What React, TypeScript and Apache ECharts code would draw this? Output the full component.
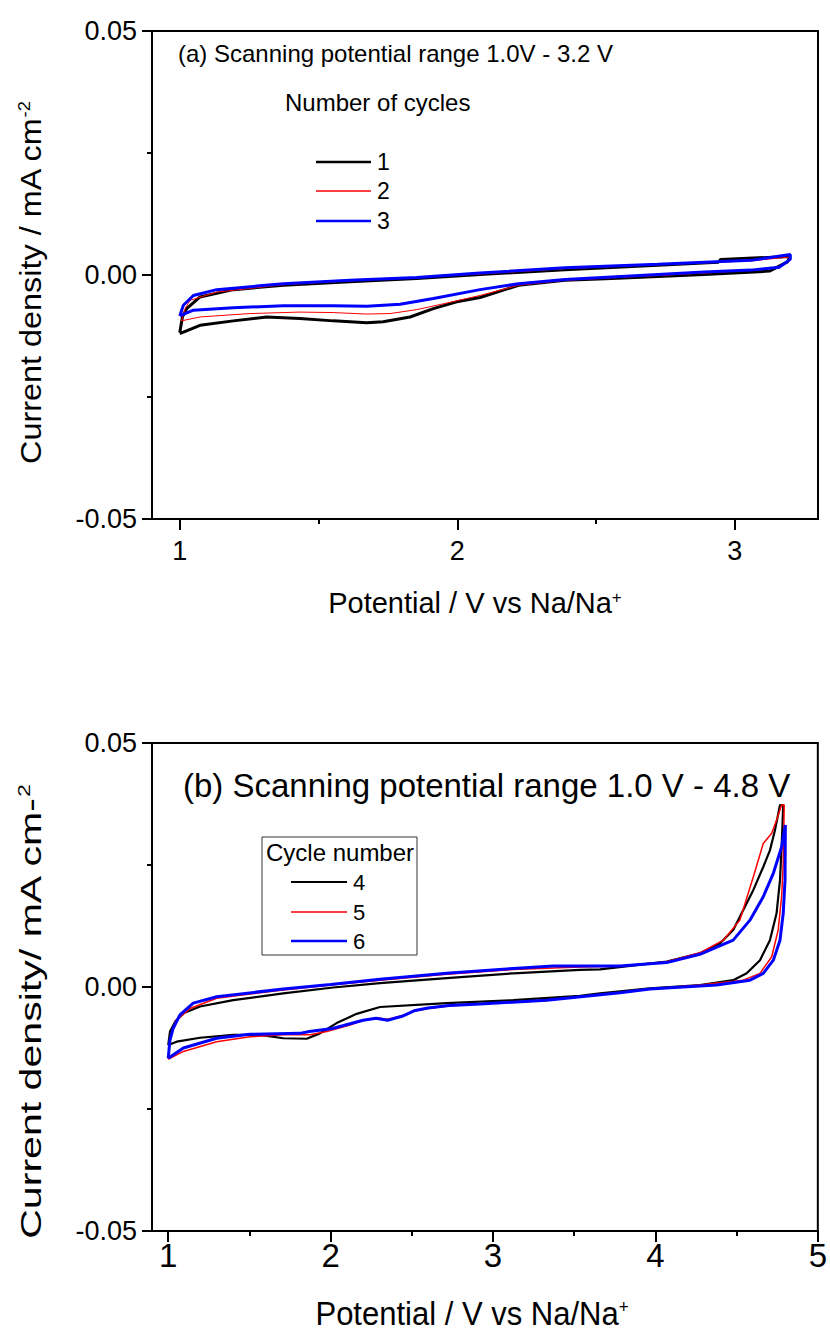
import React, { useEffect, useRef } from 'react';
import * as echarts from 'echarts';

const FONT = '"Liberation Sans", Arial, Helvetica, sans-serif';

// ---------- axis ticks ----------
const xTicksA = [1, 2, 3];
const xMinorA = [1.5, 2.5];
const xTicksB = [1, 2, 3, 4, 5];
const xMinorB = [1.5, 2.5, 3.5, 4.5];

const cyclesA = ['1', '2', '3'];
const cyclesB = ['4', '5', '6'];

// ---------- panel (a): 1.0 V - 3.2 V, cycles 1-3 ----------
const cycle1Fwd: [number, number][] = [
  [1.0, -0.0118], [1.01, -0.0085], [1.025, -0.0069], [1.073, -0.0045], [1.193, -0.003],
  [1.373, -0.0021], [1.613, -0.0014], [1.854, -0.0007], [2.082, 0.0001], [2.388, 0.0011],
  [2.723, 0.002], [2.94, 0.0026], [2.95, 0.0032], [3.2, 0.0038],
];
const cycle1Rev: [number, number][] = [
  [3.2, 0.0037], [3.19, 0.0027], [3.125, 0.0008], [2.89, 0.0001], [2.556, -0.0007],
  [2.388, -0.0011], [2.221, -0.0021], [2.082, -0.0046], [1.998, -0.0055], [1.914, -0.0069],
  [1.83, -0.0086], [1.733, -0.0096], [1.674, -0.0098], [1.553, -0.0094], [1.433, -0.0089],
  [1.313, -0.0086], [1.193, -0.0094], [1.073, -0.0103], [1.0, -0.012],
];
const cycle2Fwd: [number, number][] = [
  [1.006, -0.0094], [1.02, -0.0068], [1.037, -0.0052], [1.133, -0.0035], [1.373, -0.002],
  [1.613, -0.0012], [1.854, -0.0005], [2.082, 0.0002], [2.388, 0.0013], [2.723, 0.0021],
  [3.058, 0.0029], [3.2, 0.0037],
];
const cycle2Rev: [number, number][] = [
  [3.2, 0.0034], [3.16, 0.0015], [3.058, 0.001], [2.89, 0.0004], [2.723, -0.0001],
  [2.556, -0.0006], [2.388, -0.0011], [2.221, -0.0021], [2.082, -0.0042], [1.95, -0.0059],
  [1.854, -0.0071], [1.758, -0.0079], [1.674, -0.008], [1.553, -0.0077], [1.433, -0.0076],
  [1.253, -0.0079], [1.073, -0.0086], [1.006, -0.0094],
];
const cycle3Fwd: [number, number][] = [
  [1.0, -0.0084], [1.013, -0.0062], [1.049, -0.0042], [1.133, -0.003], [1.373, -0.0018],
  [1.613, -0.0011], [1.854, -0.0005], [2.082, 0.0004], [2.388, 0.0015], [2.723, 0.0022],
  [3.058, 0.003], [3.2, 0.0042],
];
const cycle3Rev: [number, number][] = [
  [3.2, 0.0032], [3.16, 0.0016], [3.058, 0.001], [2.89, 0.0006], [2.723, 0.0001],
  [2.556, -0.0004], [2.388, -0.0009], [2.221, -0.0018], [2.082, -0.003], [1.914, -0.0048],
  [1.794, -0.006], [1.674, -0.0064], [1.553, -0.0063], [1.373, -0.0063], [1.193, -0.0067],
  [1.049, -0.0072], [1.0, -0.0084],
];

// ---------- panel (b): 1.0 V - 4.8 V, cycles 4-6 ----------
const cycle4Fwd: [number, number][] = [
  [1.0, -0.0119], [1.011, -0.0091], [1.042, -0.0071], [1.093, -0.0054], [1.196, -0.004],
  [1.4, -0.0027], [1.708, -0.0013], [2.016, -0.0001], [2.304, 0.0008], [2.714, 0.0018],
  [3.125, 0.0028], [3.535, 0.0035], [3.659, 0.0036], [4.069, 0.0052], [4.274, 0.0069],
  [4.397, 0.0089], [4.479, 0.0117], [4.541, 0.0158], [4.603, 0.0199], [4.664, 0.0246],
  [4.705, 0.028], [4.736, 0.0321], [4.767, 0.0373],
];
const cycle4Rev: [number, number][] = [
  [4.787, 0.0373], [4.777, 0.0287], [4.767, 0.0219], [4.746, 0.0151], [4.705, 0.0096],
  [4.644, 0.0055], [4.562, 0.0028], [4.479, 0.0014], [4.274, 0.0004], [3.966, -0.0003],
  [3.659, -0.0013], [3.535, -0.0018], [3.125, -0.0027], [2.714, -0.0033], [2.304, -0.0041],
  [2.16, -0.0055], [2.037, -0.0074], [1.934, -0.0095], [1.853, -0.0106], [1.708, -0.0105],
  [1.565, -0.0098], [1.4, -0.0098], [1.196, -0.0104], [1.052, -0.0112], [1.0, -0.0119],
];
const cycle5Fwd: [number, number][] = [
  [1.0, -0.0148], [1.012, -0.0105], [1.042, -0.0071], [1.134, -0.0044], [1.298, -0.0023],
  [1.708, -0.0006], [2.0, 0.0004], [2.304, 0.0014], [2.714, 0.0026], [3.125, 0.0036],
  [3.535, 0.0041], [3.782, 0.0043], [4.069, 0.0052], [4.274, 0.007], [4.418, 0.0096],
  [4.52, 0.0137], [4.603, 0.0226], [4.664, 0.0294], [4.716, 0.0315], [4.746, 0.0342],
  [4.777, 0.0373],
];
const cycle5Rev: [number, number][] = [
  [4.793, 0.0373], [4.787, 0.0253], [4.777, 0.0185], [4.756, 0.0117], [4.716, 0.0062],
  [4.644, 0.0028], [4.541, 0.0014], [4.274, 0.0004], [3.966, -0.0004], [3.782, -0.0012],
  [3.33, -0.0027], [2.92, -0.0035], [2.728, -0.0039], [2.6, -0.0044], [2.52, -0.0049],
  [2.44, -0.0059], [2.35, -0.0066], [2.28, -0.0063], [2.2, -0.0068], [2.119, -0.0078],
  [1.976, -0.0091], [1.873, -0.0098], [1.708, -0.0098], [1.503, -0.0102], [1.298, -0.0112],
  [1.093, -0.0132], [1.011, -0.0146], [1.0, -0.0148],
];
const cycle6Fwd: [number, number][] = [
  [1.0, -0.0146], [1.01, -0.011], [1.03, -0.0085], [1.072, -0.0057], [1.154, -0.0033],
  [1.298, -0.002], [1.708, -0.0004], [2.0, 0.0005], [2.304, 0.0016], [2.714, 0.0028],
  [3.125, 0.0038], [3.37, 0.0043], [3.782, 0.0043], [4.069, 0.005], [4.274, 0.0067],
  [4.479, 0.0096], [4.582, 0.0137], [4.664, 0.0185], [4.726, 0.0233], [4.777, 0.0287],
  [4.8, 0.0332],
];
const cycle6Rev: [number, number][] = [
  [4.8, 0.033], [4.798, 0.0219], [4.787, 0.0151], [4.767, 0.0096], [4.726, 0.0055],
  [4.664, 0.0028], [4.582, 0.0014], [4.377, 0.0004], [3.966, -0.0004], [3.782, -0.0012],
  [3.33, -0.0027], [2.92, -0.0035], [2.728, -0.0038], [2.6, -0.0043], [2.52, -0.0048],
  [2.44, -0.006], [2.35, -0.0068], [2.28, -0.0064], [2.2, -0.0068], [2.012, -0.0085],
  [1.869, -0.0091], [1.811, -0.0095], [1.503, -0.0097], [1.298, -0.0105], [1.093, -0.0125],
  [1.0, -0.0146],
];

const BLACK = '#000000';
const RED = '#ff0000';
const BLUE = '#0000ff';
const COLORS = [BLACK, RED, BLUE];
const WIDTHS_A = [3, 1, 3];
const WIDTHS_B = [2.2, 1.5, 3];

function mainX(gridIndex: number, min: number, max: number, ticks: number[], fontSize: number, margin: number) {
  return {
    type: 'value', gridIndex, min, max, position: 'bottom',
    axisLine: { show: true, onZero: false, lineStyle: { color: '#000', width: 2 } },
    axisTick: { show: true, inside: false, length: 11, customValues: ticks, lineStyle: { color: '#000', width: 2 } },
    axisLabel: {
      show: true, customValues: ticks, formatter: (v: number) => String(v),
      fontSize, fontFamily: FONT, color: '#000', margin,
    },
    splitLine: { show: false },
  };
}
function minorX(gridIndex: number, min: number, max: number, ticks: number[]) {
  return {
    type: 'value', gridIndex, min, max, position: 'bottom',
    axisLine: { show: false, onZero: false },
    axisTick: { show: true, inside: false, length: 5, customValues: ticks, lineStyle: { color: '#000', width: 2 } },
    axisLabel: { show: false },
    splitLine: { show: false },
  };
}
function yAx(gridIndex: number) {
  return {
    type: 'value', gridIndex, min: -0.05, max: 0.05, interval: 0.05,
    axisLine: { show: true, onZero: false, lineStyle: { color: '#000', width: 2 } },
    axisTick: { show: true, length: 10, lineStyle: { color: '#000', width: 2 } },
    minorTick: { show: true, splitNumber: 2, length: 5, lineStyle: { color: '#000', width: 2 } },
    axisLabel: {
      fontSize: 27, fontFamily: FONT, color: '#000', margin: 15,
      formatter: (v: number) => (Math.abs(v) < 1e-9 ? '0.00' : v.toFixed(2)),
    },
    splitLine: { show: false },
  };
}
function line(name: string, x: number, y: number, data: [number, number][], color: string, width: number) {
  return {
    name, type: 'line', xAxisIndex: x, yAxisIndex: y, data,
    showSymbol: false, symbol: 'none', smooth: false,
    lineStyle: { color, width }, itemStyle: { color },
  };
}

// hand-drawn legend (line sample + label)
function legendItems(names: string[], widths: number[], x0: number, x1: number, yStart: number, step: number, fontSize: number) {
  const out: any[] = [];
  names.forEach((n, i) => {
    const y = Math.round(yStart + i * step);
    out.push({
      type: 'line', shape: { x1: x0, y1: y, x2: x1, y2: y },
      style: { stroke: COLORS[i], lineWidth: widths[i] },
    });
    out.push({
      type: 'text', x: x1 + 6, y,
      style: { text: n, fontSize, fontFamily: FONT, fill: '#000', align: 'left', verticalAlign: 'middle' },
    });
  });
  return out;
}

const sup = { fontSize: 17, verticalAlign: 'top', fill: '#000', fontFamily: FONT };

const option: any = {
  animation: false,
  backgroundColor: '#fff',
  grid: [
    { left: 152, top: 31, width: 666, height: 488, show: true, borderColor: '#000', borderWidth: 2, backgroundColor: 'transparent' },
    { left: 152, top: 743, width: 666, height: 488, show: true, borderColor: '#000', borderWidth: 2, backgroundColor: 'transparent' },
  ],
  xAxis: [
    mainX(0, 0.9, 3.3, xTicksA, 27, 18),
    minorX(0, 0.9, 3.3, xMinorA),
    mainX(1, 0.9, 5, xTicksB, 33, 8),
    minorX(1, 0.9, 5, xMinorB),
  ],
  yAxis: [yAx(0), yAx(1)],
  series: [
    line(cyclesA[0], 0, 0, [...cycle1Fwd, ...cycle1Rev], BLACK, WIDTHS_A[0]),
    line(cyclesA[1], 0, 0, [...cycle2Fwd, ...cycle2Rev], RED, WIDTHS_A[1]),
    line(cyclesA[2], 0, 0, [...cycle3Fwd, ...cycle3Rev], BLUE, WIDTHS_A[2]),
    line(cyclesB[0], 2, 1, [...cycle4Fwd, ...cycle4Rev], BLACK, WIDTHS_B[0]),
    line(cyclesB[1], 2, 1, [...cycle5Fwd, ...cycle5Rev], RED, WIDTHS_B[1]),
    line(cyclesB[2], 2, 1, [...cycle6Fwd, ...cycle6Rev], BLUE, WIDTHS_B[2]),
  ],
  graphic: [
    {
      type: 'text', x: 178, y: 53,
      style: { text: '(a) Scanning potential range 1.0V - 3.2 V', fontSize: 24, fontFamily: FONT, fill: '#000', align: 'left', verticalAlign: 'middle' },
    },
    {
      type: 'text', x: 285, y: 102,
      style: { text: 'Number of cycles', fontSize: 24, fontFamily: FONT, fill: '#000', align: 'left', verticalAlign: 'middle' },
    },
    ...legendItems(cyclesA, [2.5, 1.5, 2.5], 316, 371, 162, 29.3, 23),
    {
      type: 'text', x: 183, y: 785,
      style: { text: '(b) Scanning potential range 1.0 V - 4.8 V', fontSize: 33, fontFamily: FONT, fill: '#000', align: 'left', verticalAlign: 'middle' },
    },
    {
      type: 'rect', shape: { x: 262, y: 837, width: 155, height: 118 },
      style: { fill: 'none', stroke: '#333', lineWidth: 1 },
    },
    {
      type: 'text', x: 266, y: 852,
      style: { text: 'Cycle number', fontSize: 24, fontFamily: FONT, fill: '#000', align: 'left', verticalAlign: 'middle' },
    },
    ...legendItems(cyclesB, [2, 1.5, 2.5], 291, 347, 882, 29.5, 22),
    {
      type: 'text', x: 31, y: 283, rotation: Math.PI / 2, scaleX: 1.08,
      style: {
        text: 'Current density / mA cm{sup|-2}', fontSize: 30, fontFamily: FONT, fill: '#000',
        align: 'center', verticalAlign: 'middle', rich: { sup },
      },
    },
    {
      type: 'text', x: 31, y: 1012, rotation: Math.PI / 2, scaleX: 1.37,
      style: {
        text: 'Current density/ mA cm-{sup|2}', fontSize: 30, fontFamily: FONT, fill: '#000',
        align: 'center', verticalAlign: 'middle', rich: { sup },
      },
    },
    {
      type: 'text', x: 475, y: 603,
      style: {
        text: 'Potential / V vs Na/Na{sup|+}', fontSize: 29, fontFamily: FONT, fill: '#000',
        align: 'center', verticalAlign: 'middle', rich: { sup },
      },
    },
    {
      type: 'text', x: 472, y: 1314, scaleY: 1.06,
      style: {
        text: 'Potential / V vs Na/Na{sup|+}', fontSize: 31, fontFamily: FONT, fill: '#000',
        align: 'center', verticalAlign: 'middle', rich: { sup },
      },
    },
  ],
};

export default function App() {
  const ref = useRef<HTMLDivElement>(null);
  useEffect(() => {
    const chart = echarts.init(ref.current!, null, { renderer: 'svg' });
    chart.setOption(option);
    return () => chart.dispose();
  }, []);
  return (
    <div
      ref={ref}
      style={{ position: 'absolute', left: 0, top: 0, width: 830, height: 1337, background: '#fff' }}
    />
  );
}
